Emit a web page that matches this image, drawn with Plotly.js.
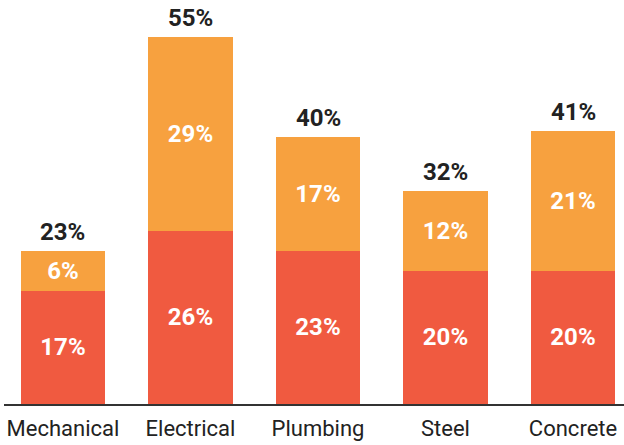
<!DOCTYPE html>
<html>
<head>
<meta charset="utf-8">
<script src="https://cdn.plot.ly/plotly-3.0.1.min.js"></script>
<style>html,body{margin:0;padding:0;background:#fff}#chart{width:624px;height:445px}</style>
</head>
<body>
<div id="chart"></div>
<script>
var categories = ["Mechanical", "Electrical", "Plumbing", "Steel", "Concrete"];
var bottomValues = [17, 26, 23, 20, 20];
var topValues = [6, 29, 17, 12, 21];
var totalValues = [23, 55, 40, 32, 41];

var pct = function (v) { return v + "%"; };
var labelFont = {family: "Roboto, sans-serif", size: 24, color: "#ffffff", weight: 700};

var traces = [
  {
    type: "bar", x: categories, y: bottomValues,
    marker: {color: "#F05A40"},
    text: bottomValues.map(pct), textposition: "inside", insidetextanchor: "middle",
    textfont: labelFont, constraintext: "none", hoverinfo: "none"
  },
  {
    type: "bar", x: categories, y: topValues,
    marker: {color: "#F7A13F"},
    text: topValues.map(pct), textposition: "inside", insidetextanchor: "middle",
    textfont: labelFont, constraintext: "none", hoverinfo: "none"
  }
];

var annotations = categories.map(function (c, i) {
  return {
    x: c, y: totalValues[i], xref: "x", yref: "y",
    text: pct(totalValues[i]), showarrow: false,
    yanchor: "bottom", yshift: 3,
    font: {family: "Roboto, sans-serif", size: 24, color: "#222222", weight: 700}
  };
});

var layout = {
  width: 624, height: 445,
  margin: {l: 4, r: 0, t: 0, b: 41},
  barmode: "stack", bargap: 0.34,
  showlegend: false,
  paper_bgcolor: "#ffffff", plot_bgcolor: "#ffffff",
  annotations: annotations,
  xaxis: {
    type: "category", range: [-0.4627, 4.4],
    showline: true, linecolor: "#333333", linewidth: 2,
    ticks: "", showgrid: false, zeroline: false,
    ticklabelstandoff: 4,
    tickfont: {family: "Roboto, sans-serif", size: 22, color: "#222222"}
  },
  yaxis: {
    range: [0, 60.6], visible: false, showgrid: false, zeroline: false
  }
};

Plotly.newPlot("chart", traces, layout, {displayModeBar: false, staticPlot: true});
</script>
</body>
</html>
